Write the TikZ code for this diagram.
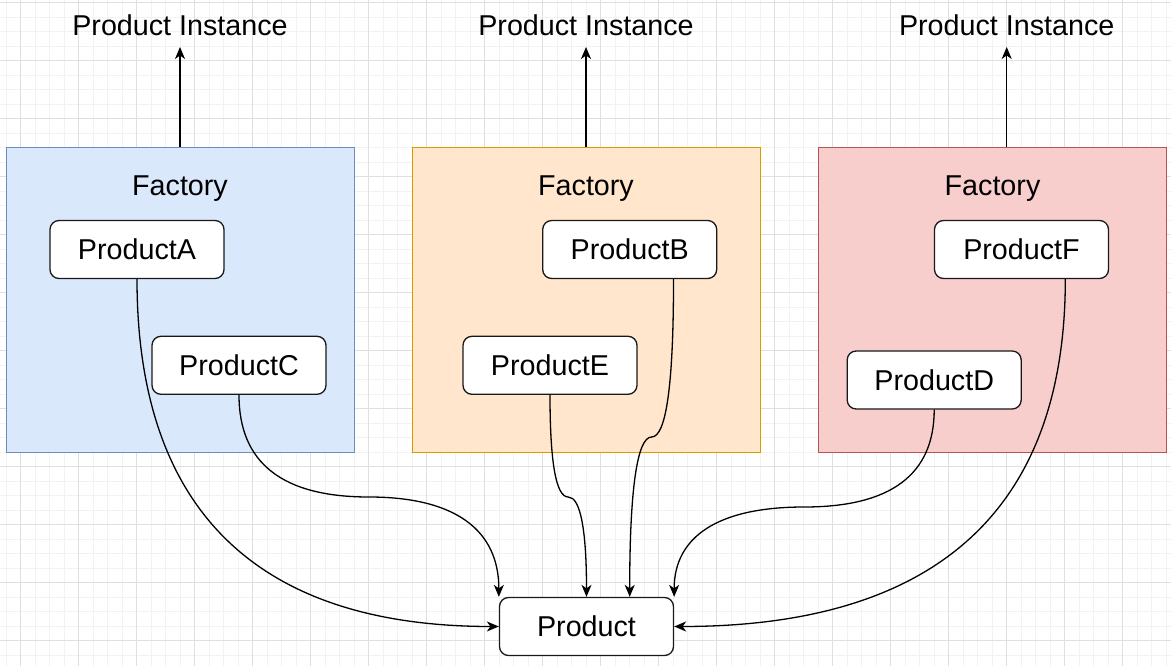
\documentclass[tikz,border=0pt]{standalone}
\usepackage{fontspec}
\setmainfont{Liberation Sans}
\usetikzlibrary{arrows.meta,calc}
\definecolor{minorg}{HTML}{F2F2F2}
\definecolor{majorg}{HTML}{DFDFDF}
\definecolor{bluefill}{HTML}{DAE8FC}
\definecolor{bluedraw}{HTML}{6C8EBF}
\definecolor{orangefill}{HTML}{FFE6CC}
\definecolor{orangedraw}{HTML}{D79B00}
\definecolor{redfill}{HTML}{F8CECC}
\definecolor{reddraw}{HTML}{B85450}
\tikzset{
  big/.style={font=\fontsize{28.7}{34}\selectfont},
  factorybox/.style={line width=1.3pt, minimum width=348pt, minimum height=304.5pt, inner sep=0pt},
  prodbox/.style={big, draw=black!90, fill=white, rounded corners=9pt, line width=1.3pt, minimum width=174pt, minimum height=58pt, text height=20.5pt, text depth=0pt, inner sep=0pt},
  lbl/.style={big, anchor=base, inner xsep=0pt, inner ysep=11pt, text depth=0pt},
  conn/.style={line width=1.3pt, -{Stealth[length=12pt,width=10pt,inset=3.5pt]}},
  minorline/.style={minorg, line width=1pt},
  majorline/.style={majorg, line width=1pt},
}
\newcommand\threeseg[5]{%
  \draw[conn] (#1) .. controls ($(#1)!0.6667!(#2)$) and ($(#3)!0.6667!(#2)$) .. (#3)
    .. controls ($(#3)!0.6667!(#4)$) and ($(#5)!0.6667!(#4)$) .. (#5);}
\begin{document}
\begin{tikzpicture}[x=1pt,y=-1pt]
\useasboundingbox (0,0) rectangle (1171,666);
\fill[white] (0,0) rectangle (1171,666);
% grid
\foreach \i in {0,...,80} {\draw[minorline] ({6.2+14.5*\i},0) -- ({6.2+14.5*\i},666);}
\foreach \i in {0,...,45} {\draw[minorline] (0,{2.7+14.5*\i}) -- (1171,{2.7+14.5*\i});}
\foreach \i in {0,...,19} {\draw[majorline] ({20.7+58*\i},0) -- ({20.7+58*\i},666);}
\foreach \i in {0,...,11} {\draw[majorline] (0,{2.7+58*\i}) -- (1171,{2.7+58*\i});}

% factory boxes
\node[factorybox, draw=bluedraw, fill=bluefill] (fb1) at (180.3,300) {};
\node[factorybox, draw=orangedraw, fill=orangefill] (fb2) at (586.2,300) {};
\node[factorybox, draw=reddraw, fill=redfill] (fb3) at (992.5,300) {};

\node[big, anchor=base] (ft1) at (180,196) {Factory};
\node[big, anchor=base] (ft2) at (586,196) {Factory};
\node[big, anchor=base] (ft3) at (992.5,196) {Factory};

% product instance labels
\node[lbl] (pi1) at (180,35.8) {Product Instance};
\node[lbl] (pi2) at (586,35.8) {Product Instance};
\node[lbl] (pi3) at (1006.7,35.8) {Product Instance};

\draw[conn] (fb1.north -| pi1.south) -- (pi1.south);
\draw[conn] (fb2.north -| pi2.south) -- (pi2.south);
\draw[conn] (fb3.north -| pi3.south) -- (pi3.south);

% product nodes
\node[prodbox] (A) at (137,249.5) {ProductA};
\node[prodbox] (C) at (239,365.3) {ProductC};
\node[prodbox] (B) at (629.7,249.5) {ProductB};
\node[prodbox] (E) at (550,365.3) {ProductE};
\node[prodbox] (F) at (1021.5,249.5) {ProductF};
\node[prodbox] (D) at (934.2,380) {ProductD};
\node[prodbox] (P) at (586.5,626.5) {Product};

% A -> Product (left side)
\coordinate (wA) at (A.south |- P.west);
\draw[conn] (A.south) .. controls ($(A.south)!0.6667!(wA)$) and ($(P.west)!0.6667!(wA)$) .. (P.west);

% F -> Product (right side)
\coordinate (Fo) at ($(F.south west)!0.75!(F.south east)$);
\coordinate (wF) at (Fo |- P.east);
\draw[conn] (Fo) .. controls ($(Fo)!0.6667!(wF)$) and ($(P.east)!0.6667!(wF)$) .. (P.east);

% C -> Product
\coordinate (yC) at (0,497);
\coordinate (C1) at (C.south |- yC);
\coordinate (C2) at (P.north west |- yC);
\coordinate (Cm) at ($(C1)!0.5!(C2)$);
\threeseg{C.south}{C1}{Cm}{C2}{P.north west}

% E -> Product
\coordinate (yE) at (0,497);
\coordinate (E1) at (E.south |- yE);
\coordinate (E2) at (P.north |- yE);
\coordinate (Em) at ($(E1)!0.5!(E2)$);
\threeseg{E.south}{E1}{Em}{E2}{P.north}

% B -> Product
\coordinate (Bo) at ($(B.south west)!0.75!(B.south east)$);
\coordinate (Bt) at (P.north -| B.south);
\coordinate (yB) at (0,437);
\coordinate (B1) at (Bo |- yB);
\coordinate (B2) at (Bt |- yB);
\coordinate (Bm) at ($(B1)!0.5!(B2)$);
\threeseg{Bo}{B1}{Bm}{B2}{Bt}

% D -> Product
\coordinate (yD) at (0,507);
\coordinate (D1) at (D.south |- yD);
\coordinate (D2) at (P.north east |- yD);
\coordinate (Dm) at ($(D1)!0.5!(D2)$);
\threeseg{D.south}{D1}{Dm}{D2}{P.north east}
\end{tikzpicture}
\end{document}
